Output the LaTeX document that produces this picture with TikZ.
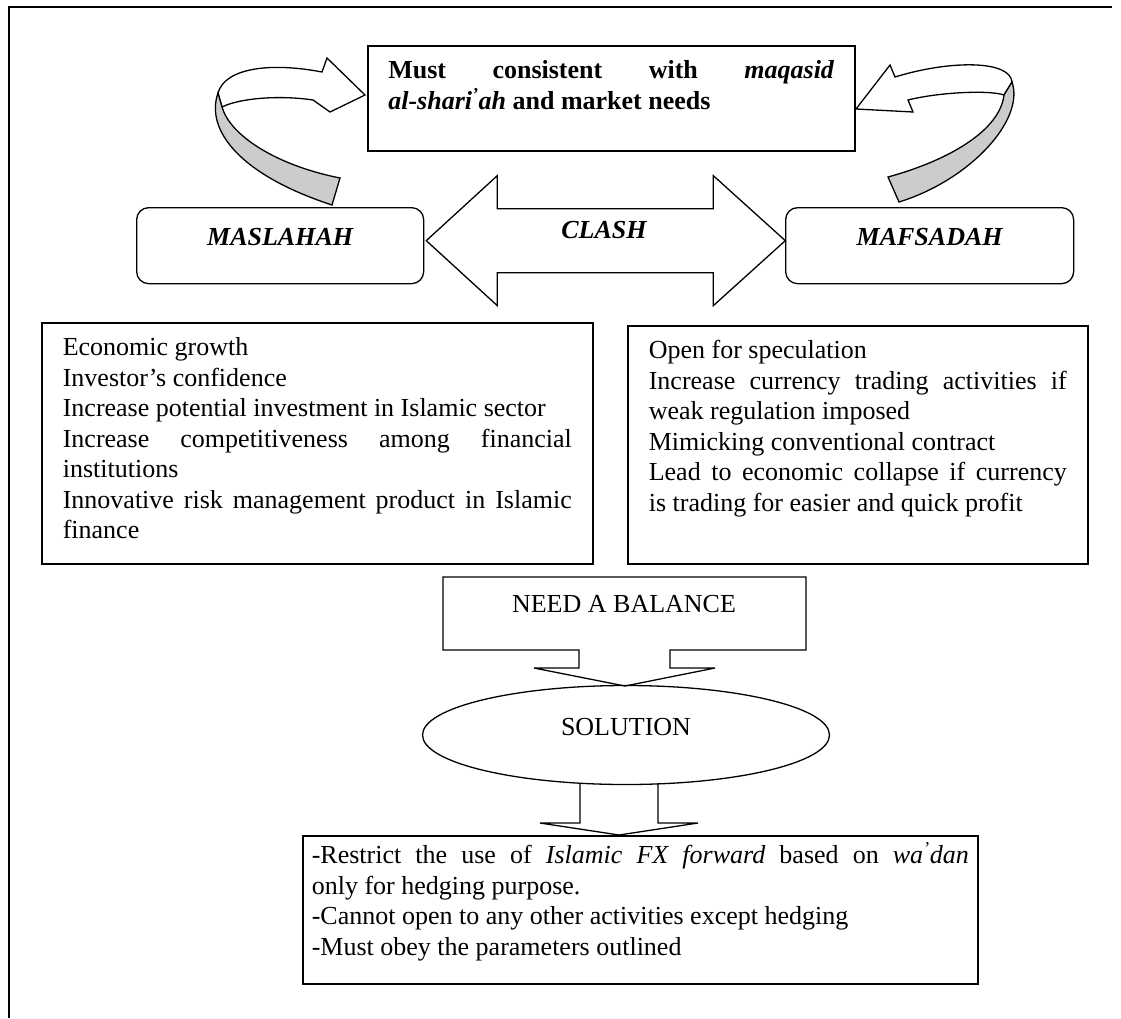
\documentclass[tikz,border=0pt]{standalone}
\usepackage{fontspec}
\setmainfont{Liberation Serif}
\usetikzlibrary{shapes.geometric}
\definecolor{foldgray}{gray}{0.8}

\begin{document}
\begin{tikzpicture}[x=1pt, y=-1pt, font=\fontsize{26}{30.5}\selectfont,
    box/.style={draw, line width=1.6pt, inner ysep=0pt, anchor=north west, align=justify},
    roundbox/.style={draw, line width=1.3pt, rounded corners=12pt, inner sep=0pt,
        anchor=north west, align=center, font=\fontsize{26}{30.5}\selectfont\bfseries\itshape},
    shapeline/.style={draw, line width=1.3pt, line join=miter},
    ribbon/.style={shapeline, fill=white}]

    \useasboundingbox (0,0) rectangle (1121,1018);

    % frame of the page
    \draw[line width=1.6pt] (9,1018) -- (9,7) -- (1112,7);

    % goal box
    \node[box, text width=446pt, inner xsep=20.5pt, text height=33pt, text depth=72pt] (goal) at (367,45)
        {\bfseries Must consistent with \textit{maqasid}\linebreak
         \textit{al-shari\textsuperscript{’}ah} and market needs};

    % the two sides
    \node[roundbox, text width=287pt, text height=38pt, text depth=38pt] (maslahah) at (136,207) {MASLAHAH};
    \node[roundbox, text width=288pt, text height=38pt, text depth=38pt] (mafsadah) at (785,207) {MAFSADAH};

    % double arrow between them
    \draw[shapeline] ([shift={(2,-5)}]maslahah.east) -- ++(71,-65) -- ++(0,33) -- ++(216,0) -- ++(0,-33)
        -- ++(72,65) -- ++(-72,65) -- ++(0,-33) -- ++(-216,0) -- ++(0,33) -- cycle;
    \node[font=\fontsize{26}{30.5}\selectfont\bfseries\itshape] (clash) at (604,230) {CLASH};

    % curled arrow, left
    \draw[ribbon] (322,72) .. controls (270,62) and (225,68) .. (218,93) -- (222,107)
        .. controls (240,98) and (280,95) .. (313,100) -- (330,112) -- (365,95) -- (327,58) -- cycle;
    \draw[ribbon, fill=foldgray] (218,93) .. controls (205,130) and (240,175) .. (332,205) -- (340,178)
        .. controls (275,165) and (230,135) .. (222,107) -- cycle;
    % curled arrow, right
    \draw[ribbon] (895,77) .. controls (950,60) and (1010,60) .. (1012,82) -- (1004,95)
        .. controls (990,90) and (940,92) .. (908,100) -- (913,112) -- (856,109) -- (890,65) -- cycle;
    \draw[ribbon, fill=foldgray] (1012,82) .. controls (1025,120) and (970,180) .. (899,202) -- (888,177)
        .. controls (950,160) and (1000,130) .. (1004,95) -- cycle;

    % lists
    \node[box, text width=509pt, inner xsep=21pt, text height=33pt, text depth=208pt] (gains) at (41,322)
        {Economic growth\\
         Investor’s confidence\\
         Increase potential investment in Islamic sector\\
         Increase competitiveness among financial\linebreak institutions\\
         Innovative risk management product in Islamic\linebreak finance};
    \node[box, text width=418pt, inner xsep=21pt, text height=33pt, text depth=205pt] (risks) at (627,325)
        {Open for speculation\\
         Increase currency trading activities if\linebreak weak regulation imposed\\
         Mimicking conventional contract\\
         Lead to economic collapse if currency\linebreak is trading for easier and quick profit};

    % need a balance
    \draw[shapeline] (443,577) -- (806,577) -- (806,650) -- (670,650) -- (670,668) -- (715,668) -- (625,686)
        -- (534,668) -- (579,668) -- (579,650) -- (443,650) -- cycle;
    \node (balance) at (624,604) {NEED A BALANCE};

    % solution
    \node[draw, ellipse, line width=1.3pt, minimum width=407pt, minimum height=99pt, inner sep=0pt,
        text height=10pt, text depth=10pt] (solution) at (626,735) {SOLUTION};
    \draw[shapeline] (580,783) -- (580,823) -- (540,823) -- (619,835) -- (698,823) -- (658,823) -- (658,783);

    \node[box, text width=657pt, inner xsep=9pt, text height=28pt, text depth=120pt] (outcome) at (302,835)
        {-Restrict the use of \textit{Islamic FX forward} based on \textit{wa\textsuperscript{’}dan}\linebreak
         only for hedging purpose.\\
         -Cannot open to any other activities except hedging\\
         -Must obey the parameters outlined};

\end{tikzpicture}
\end{document}
